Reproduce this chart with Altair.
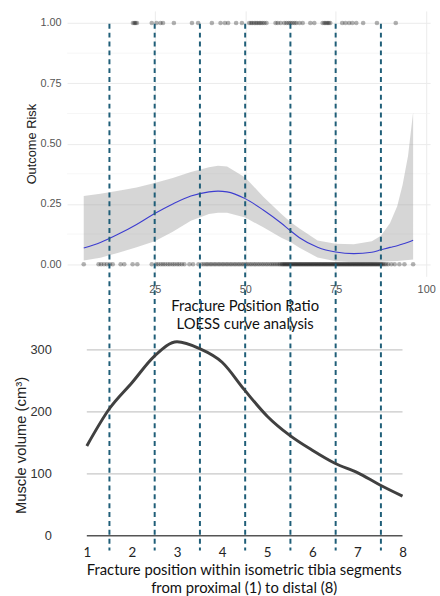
import altair as alt
import pandas as pd

# ---------------- top panel (LOESS) ----------------
risk_one_x = [19.0, 19.4, 19.7, 20.1, 24.2, 25.5, 26.6, 27.3, 30.3, 35.3, 37.0, 40.8,
              43.2, 44.4, 45.3, 47.5, 49.1, 51.1, 51.6, 52.0, 52.5, 53.0, 53.4, 53.9,
              54.3, 54.8, 55.3, 55.9, 58.4, 59.0, 59.8, 60.8, 61.4, 62.0, 62.5, 63.0,
              63.6, 64.1, 65.0, 65.9, 68.0, 69.1, 71.4, 71.9, 72.3, 72.7, 73.1, 73.5,
              76.8, 77.7, 78.7, 79.6, 80.7, 82.6, 86.4, 91.6]

risk_zero_x = [5.4, 9.5, 10.2, 11.0, 11.8, 12.6, 13.4, 15.6, 16.6, 18.9, 20.2, 24.2, 25.4,
               26.0, 26.7, 27.3, 27.9, 28.6, 29.2, 29.9, 30.5, 31.2, 31.8, 32.5, 33.2,
               34.6, 35.6,
               37.1, 38.0, 38.6, 39.2, 39.7, 40.3, 40.8, 41.4, 41.9, 42.5, 43.0, 43.6,
               44.1, 44.7, 45.2, 45.8, 46.3, 46.9, 47.4, 48.0, 48.5, 49.1, 49.6, 50.2,
               50.7, 51.3, 51.8, 52.4, 52.9, 53.5, 54.0, 54.6, 55.1, 55.7, 56.2, 56.8,
               57.3, 57.8, 58.3, 58.8, 59.3, 59.7,
               60.1, 60.4, 60.7, 61.0, 61.3, 61.6, 61.9, 62.2, 62.5, 62.8, 63.1, 63.4,
               63.7, 64.0, 64.3, 64.6, 64.9, 65.2, 65.5, 65.8, 66.1, 66.4, 66.7, 67.0,
               67.3, 67.6, 67.9, 68.2, 68.5, 68.8, 69.1, 69.4, 69.7, 70.0, 70.3, 70.6,
               70.9, 71.2, 71.5, 71.8, 72.1, 72.4, 72.7, 73.0, 73.3, 73.6, 73.9, 74.2,
               74.5, 74.8, 75.1, 75.4, 75.7, 76.0, 76.3, 76.6, 76.9, 77.2, 77.5, 77.8,
               78.1, 78.4, 78.7, 79.0, 79.3, 79.6, 79.9, 80.2, 80.5, 80.8, 81.1, 81.4,
               81.7, 82.0, 82.3, 82.6, 82.9, 83.2, 83.5, 83.8, 84.1, 84.4, 84.7, 85.0,
               85.3, 85.6, 85.9, 86.2, 86.5, 86.8, 87.1, 87.4, 87.7, 88.0, 88.4, 88.9,
               89.5, 90.4, 91.3, 92.6, 94.0, 96.4]

loess_x   = [5.4, 10, 15, 20, 25, 30, 35, 40, 42.5, 45, 50, 55, 60, 62.5, 65, 70, 75,
             80, 85, 87.5, 90, 92, 93.5, 95, 96.4]
loess_fit = [0.067, 0.090, 0.125, 0.165, 0.210, 0.250, 0.283, 0.300, 0.303, 0.300, 0.272,
             0.225, 0.170, 0.139, 0.110, 0.071, 0.051, 0.044, 0.050, 0.060, 0.070, 0.077,
             0.084, 0.091, 0.100]
loess_lo  = [0.016, 0.027, 0.048, 0.070, 0.095, 0.135, 0.180, 0.208, 0.213, 0.213, 0.194,
             0.153, 0.110, 0.092, 0.068, 0.028, 0.012, 0.008, 0.008, 0.010, 0.012, 0.014,
             0.016, 0.018, 0.020]
loess_hi  = [0.283, 0.292, 0.305, 0.318, 0.337, 0.358, 0.382, 0.402, 0.408, 0.405, 0.360,
             0.280, 0.208, 0.175, 0.148, 0.098, 0.085, 0.083, 0.095, 0.118, 0.170, 0.240,
             0.330, 0.450, 0.630]

segment_bounds_ratio = [12.5, 25, 37.5, 50, 62.5, 75, 87.5]
risk_ticks = [0, 0.25, 0.5, 0.75, 1.0]
risk_minor = [0.125, 0.375, 0.625, 0.875]
ratio_ticks = [25, 50, 75, 100]

# ---------------- bottom panel (muscle volume) ----------------
segment_pos = [1, 1.5, 2, 2.5, 3, 3.5, 4, 4.5, 5, 5.5, 6, 6.5, 7, 7.5, 8]
muscle_volume = [145, 205, 247, 290, 313, 302, 280, 235, 193, 162, 138, 117, 102, 82, 64]
segment_labels = [1, 2, 3, 4, 5, 6, 7, 8]
volume_ticks = [0, 100, 200, 300]

W = 368
TOP_H = 269
BOT_H = 201

# ---------------- tables ----------------
pts = pd.DataFrame({"ratio": risk_one_x + risk_zero_x,
                    "risk": [1.0] * len(risk_one_x) + [0.0] * len(risk_zero_x)})
loess = pd.DataFrame({"ratio": loess_x, "risk": loess_fit, "lo": loess_lo, "hi": loess_hi})
minor = pd.DataFrame({"risk": risk_minor})
bounds = pd.DataFrame({"ratio": segment_bounds_ratio})

x_top = alt.X("ratio:Q",
              scale=alt.Scale(domain=[0.8, 101.1], nice=False, zero=False),
              axis=alt.Axis(values=ratio_ticks, grid=True, gridColor="#ebebeb", gridWidth=1,
                            ticks=False, domain=False,
                            labelFont="Liberation Sans", labelFontSize=11, labelColor="#555555",
                            labelPadding=7,
                            title=["Fracture Position Ratio", "LOESS curve analysis"],
                            titleFont="Lato", titleFontSize=15, titleFontWeight="normal",
                            titleColor="#111111", titlePadding=5, titleLineHeight=18,
                            titleX=180))


def y_top(field):
    return alt.Y(f"{field}:Q",
                 scale=alt.Scale(domain=[-0.05, 1.05], nice=False, zero=False),
                 axis=alt.Axis(values=risk_ticks, format=".2f", grid=True, gridColor="#ebebeb",
                               gridWidth=1, ticks=False, domain=False,
                               labelFont="Liberation Sans", labelFontSize=11,
                               labelColor="#555555", labelPadding=6,
                               title="Outcome Risk", titleFont="Liberation Sans",
                               titleFontSize=13, titleFontWeight="normal", titleColor="#222222",
                               titleX=-36, titleBaseline="middle"))


minor_grid = alt.Chart(minor).mark_rule(color="#f2f2f2", strokeWidth=0.7).encode(
    y=y_top("risk"), x=alt.value(0), x2=alt.value(W))
band = alt.Chart(loess).mark_area(color="#999999", opacity=0.4).encode(
    x=x_top, y=y_top("lo"), y2="hi:Q")
points = alt.Chart(pts).mark_circle(size=22, color="black", opacity=0.3).encode(
    x=x_top, y=y_top("risk"))
curve = alt.Chart(loess).mark_line(color="#3d3dd0", strokeWidth=1.1,
                                   interpolate="monotone").encode(x=x_top, y=y_top("risk"))
dashes = alt.Chart(bounds).mark_rule(color="#1f5e78", strokeWidth=2,
                                     strokeDash=[5, 4]).encode(
    x=x_top, y=alt.value(13), y2=alt.value(547))

top = alt.layer(minor_grid, band, points, curve, dashes).properties(width=W, height=TOP_H)

# ---------------- bottom ----------------
vol = pd.DataFrame({"seg": segment_pos, "volume": muscle_volume})
grid_df = pd.DataFrame({"volume": volume_ticks[1:],
                        "s0": [segment_labels[0]] * 3, "s1": [segment_labels[-1]] * 3})
zero_df = pd.DataFrame({"volume": volume_ticks[:1],
                        "s0": [segment_labels[0]], "s1": [segment_labels[-1]]})


def x_bot(field):
    return alt.X(f"{field}:Q",
                 scale=alt.Scale(domain=[0.5625, 8.6125], nice=False, zero=False),
                 axis=alt.Axis(values=segment_labels, format="d", grid=False, ticks=False,
                               domain=False, labelFont="Lato", labelFontSize=13.5,
                               labelColor="#222222", labelPadding=10,
                               title=["Fracture position within isometric tibia segments",
                                      "from proximal (1) to distal (8)"],
                               titleFont="Lato", titleFontSize=15, titleFontWeight="normal",
                               titleColor="#111111", titlePadding=4, titleLineHeight=18,
                               titleX=179))


y_bot = alt.Y("volume:Q",
              scale=alt.Scale(domain=[0, 320], nice=False, zero=True),
              axis=alt.Axis(values=volume_ticks, grid=False, ticks=False, domain=False,
                            labelFont="Liberation Sans", labelFontSize=13, labelColor="#333333",
                            labelPadding=16,
                            title="Muscle volume (cm³)", titleFont="Liberation Sans",
                            titleFontSize=15, titleFontWeight="normal", titleColor="#222222",
                            titleX=-47, titleY=109, titleBaseline="middle"))

grid_b = alt.Chart(grid_df).mark_rule(color="#c8c8c8", strokeWidth=1.2).encode(
    x=x_bot("s0"), x2="s1:Q", y=y_bot)
zero_b = alt.Chart(zero_df).mark_rule(color="#555555", strokeWidth=1.6).encode(
    x=x_bot("s0"), x2="s1:Q", y=y_bot)
line_b = alt.Chart(vol).mark_line(color="#404040", strokeWidth=3,
                                  interpolate="monotone").encode(x=x_bot("seg"), y=y_bot)

bottom = alt.layer(grid_b, zero_b, line_b).properties(width=W, height=BOT_H)

chart = alt.vconcat(top, bottom, spacing=62, bounds="flush").properties(
    padding={"left": 13, "top": 7, "right": 4, "bottom": 0},
    background="white",
).configure_view(stroke=None)

chart.save("out.html", embed_options={"renderer": "svg", "actions": False})
